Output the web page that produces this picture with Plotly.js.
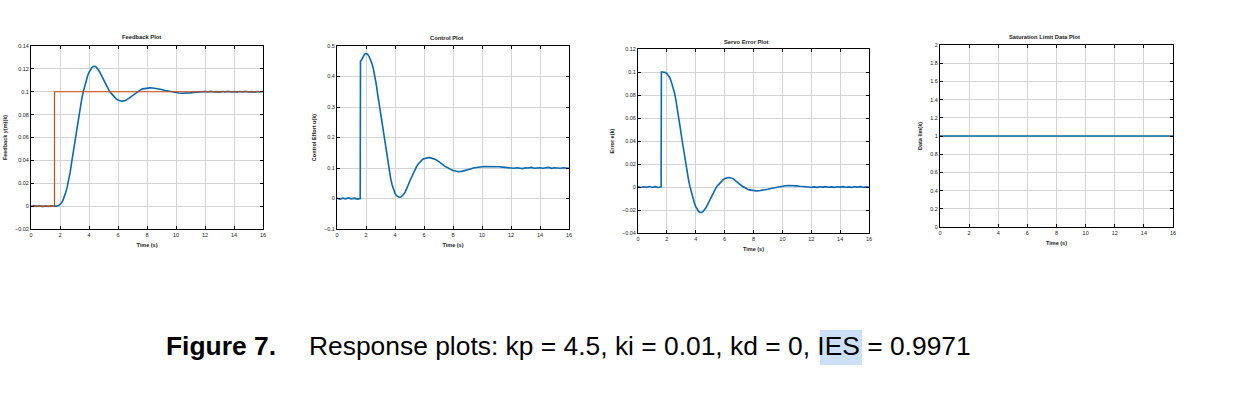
<!DOCTYPE html>
<html>
<head>
<meta charset="utf-8">
<script src="https://cdn.plot.ly/plotly-3.0.1.min.js"></script>
<style>html,body{margin:0;padding:0;background:#fff;}#chart{width:1250px;height:395px;}</style>
</head>
<body>
<div id="chart"></div>
<script>
// ---- data ----
const time = [0,0.2,0.4,0.6,0.8,1.0,1.2,1.4,1.6,1.62,
1.7,1.8,1.9,2.0,2.1,2.2,2.3,2.4,2.5,2.6,2.7,2.8,2.9,3.0,3.1,3.2,3.3,3.4,3.5,3.6,3.7,3.8,3.9,4.0,
4.1,4.2,4.3,4.4,4.5,4.6,4.7,4.8,4.9,5.0,5.1,5.2,5.3,5.4,5.5,5.6,5.7,5.8,5.9,6.0,
6.1,6.2,6.3,6.4,6.5,6.6,6.7,6.8,6.9,7.0,7.1,7.2,7.3,7.4,7.5,7.6,7.7,7.8,7.9,8.0,
8.2,8.4,8.6,8.8,9.0,9.2,9.4,9.6,9.8,10.0,10.2,10.4,10.6,10.8,11.0,11.2,11.4,11.6,11.8,12.0,
12.2,12.4,12.6,12.8,13.0,13.2,13.4,13.6,13.8,14.0,14.2,14.4,14.6,14.8,15.0,15.2,15.4,15.6,15.8,16.0];

const feedback = [-0.0003,0.0004,-0.0002,0.0003,-0.0004,0.0002,-0.0003,0.0002,-0.0001,0.0000,
0.0000,0.0002,0.0005,0.0013,0.0027,0.0050,0.0082,0.0122,0.0170,0.0225,0.0295,0.0380,0.0465,0.0550,0.0635,0.0718,0.0797,0.0870,0.0937,0.0997,0.1050,0.1097,0.1137,0.1170,
0.1195,0.1212,0.1221,0.1222,0.1215,0.1201,0.1181,0.1157,0.1130,0.1102,0.1075,0.1050,0.1027,0.1007,0.0990,0.0975,0.0960,0.0947,0.0936,0.0928,
0.0922,0.0919,0.0918,0.0919,0.0923,0.0929,0.0938,0.0948,0.0959,0.0970,0.0981,0.0991,0.1000,0.1008,0.1015,0.1020,0.1025,0.1028,0.1030,0.1032,
0.1034,0.1033,0.1030,0.1025,0.1019,0.1013,0.1007,0.1001,0.0996,0.0992,0.0989,0.0987,0.0986,0.0988,0.0990,0.0993,0.0996,0.0998,0.0999,0.1002,
0.0999,0.1003,0.0998,0.1001,0.0997,0.1002,0.0999,0.1003,0.0998,0.1001,0.0997,0.1002,0.0999,0.1003,0.0998,0.1001,0.0997,0.1002,0.0999,0.1002];

const refTime = [0,1.62,1.62,16];
const reference = [0,0,0.1,0.1];

const control = [0.001,-0.002,0.001,-0.001,0.002,-0.001,0.001,-0.002,0.000,0.450,
0.455,0.466,0.473,0.475,0.473,0.467,0.457,0.444,0.427,0.404,0.377,0.344,0.313,0.282,0.250,0.215,0.180,0.148,0.117,0.090,0.066,0.045,0.029,0.017,
0.009,0.005,0.004,0.005,0.009,0.014,0.021,0.030,0.043,0.055,0.066,0.078,0.089,0.098,0.106,0.113,0.119,0.124,0.128,0.130,
0.132,0.133,0.134,0.134,0.133,0.132,0.130,0.128,0.125,0.122,0.119,0.115,0.111,0.107,0.104,0.101,0.098,0.096,0.094,0.092,
0.089,0.088,0.089,0.091,0.094,0.097,0.100,0.102,0.103,0.104,0.105,0.105,0.106,0.105,0.104,0.104,0.103,0.102,0.101,0.101,
0.099,0.101,0.100,0.098,0.101,0.100,0.102,0.099,0.100,0.101,0.099,0.100,0.102,0.099,0.101,0.100,0.099,0.101,0.100,0.099];

const servoError = [0.0003,-0.0004,0.0002,-0.0003,0.0004,-0.0002,0.0003,-0.0004,0.0001,0.1000,
0.1000,0.0999,0.0995,0.0987,0.0973,0.0950,0.0918,0.0878,0.0830,0.0775,0.0705,0.0620,0.0535,0.0450,0.0365,0.0282,0.0203,0.0130,0.0063,0.0003,-0.0050,-0.0097,-0.0137,-0.0170,
-0.0195,-0.0212,-0.0221,-0.0222,-0.0215,-0.0201,-0.0181,-0.0157,-0.0130,-0.0102,-0.0075,-0.0050,-0.0027,-0.0007,0.0010,0.0025,0.0040,0.0053,0.0064,0.0072,
0.0078,0.0081,0.0082,0.0081,0.0077,0.0071,0.0062,0.0052,0.0041,0.0030,0.0019,0.0009,0.0000,-0.0008,-0.0015,-0.0020,-0.0025,-0.0028,-0.0030,-0.0032,
-0.0034,-0.0033,-0.0030,-0.0025,-0.0019,-0.0013,-0.0007,-0.0001,0.0004,0.0008,0.0011,0.0013,0.0014,0.0012,0.0010,0.0007,0.0004,0.0002,0.0001,-0.0002,
0.0001,-0.0003,0.0002,-0.0001,0.0003,-0.0002,0.0001,-0.0003,0.0002,-0.0001,0.0003,-0.0002,0.0001,-0.0003,0.0002,-0.0001,0.0003,-0.0002,0.0001,-0.0002];

const satTime = [0,16];
const saturation = [1,1];

const plotTitles = ["Feedback Plot","Control Plot","Servo Error Plot","Saturation Limit Data Plot"];
const yTitles = ["Feedback y(m)(k)","Control Effort u(k)","Error e(k)","Data lim(k)"];
const xTitle = "Time (s)";
const captionBold = "Figure 7.";
const captionText = "Response plots: kp = 4.5, ki = 0.01, kd = 0, IES = 0.9971";

// ---- styling ----
const W = 1250, H = 395;
const BLUE = '#0a6aad', RED = '#cc4a12';
const px = v => v / W, py = v => 1 - v / H;
const line = c => ({color: c, width: 1.6});

const traces = [
  {x: time, y: feedback, xaxis: 'x', yaxis: 'y', mode: 'lines', line: line(BLUE)},
  {x: refTime, y: reference, xaxis: 'x', yaxis: 'y', mode: 'lines', line: {color: RED, width: 1.2}},
  {x: time, y: control, xaxis: 'x2', yaxis: 'y2', mode: 'lines', line: line(BLUE)},
  {x: time, y: servoError, xaxis: 'x3', yaxis: 'y3', mode: 'lines', line: line(BLUE)},
  {x: satTime, y: saturation, xaxis: 'x4', yaxis: 'y4', mode: 'lines', line: {color: '#0a6a9a', width: 1.3}}
];

const tickFont = {family: 'Liberation Sans, Arial, sans-serif', size: 5.5, color: '#222'};
const titleFont = {family: 'Liberation Sans, Arial, sans-serif', size: 5.5, color: '#222', weight: 'bold'};
const capFont = {family: 'Liberation Sans, Arial, sans-serif', size: 26.4, color: '#000'};

function xa(d) {
  return {domain: [px(d[0]), px(d[1])], range: [0, 16], dtick: 2, tick0: 0,
    ticks: 'inside', ticklen: 3, tickcolor: '#000', showline: true, mirror: 'ticks',
    linecolor: '#000', linewidth: 1, showgrid: true, gridcolor: '#d4d4d4', gridwidth: 1,
    zeroline: false, tickfont: tickFont,
    title: {text: xTitle, font: titleFont, standoff: 6}};
}
function ya(d, r, dt, t) {
  return {domain: [py(d[1]), py(d[0])], range: r, dtick: dt, tick0: 0,
    ticks: 'inside', ticklen: 3, tickcolor: '#000', showline: true, mirror: 'ticks',
    linecolor: '#000', linewidth: 1, showgrid: true, gridcolor: '#d4d4d4', gridwidth: 1,
    zeroline: false, tickfont: tickFont, exponentformat: 'none',
    title: {text: t, font: titleFont, standoff: 7}};
}

const layout = {
  width: W, height: H, margin: {l: 0, r: 0, t: 0, b: 0},
  paper_bgcolor: '#fff', plot_bgcolor: '#fff', showlegend: false,
  xaxis:  Object.assign(xa([31, 263]), {anchor: 'y'}),
  yaxis:  Object.assign(ya([46, 229], [-0.02, 0.14], 0.02, yTitles[0]), {anchor: 'x'}),
  xaxis2: Object.assign(xa([337, 569]), {anchor: 'y2'}),
  yaxis2: Object.assign(ya([46, 229], [-0.1, 0.5], 0.1, yTitles[1]), {anchor: 'x2'}),
  xaxis3: Object.assign(xa([638, 869]), {anchor: 'y3'}),
  yaxis3: Object.assign(ya([49, 233], [-0.04, 0.12], 0.02, yTitles[2]), {anchor: 'x3'}),
  xaxis4: Object.assign(xa([940, 1173]), {anchor: 'y4'}),
  yaxis4: Object.assign(ya([45, 227], [0, 2], 0.2, yTitles[3]), {anchor: 'x4'}),
  shapes: [
    {type: 'rect', xref: 'paper', yref: 'paper', x0: px(820), x1: px(862), y0: py(365), y1: py(330),
     fillcolor: '#cce0f6', line: {width: 0}, layer: 'below'}
  ],
  annotations: [
    {text: '<b>' + plotTitles[0] + '</b>', x: px(141), y: py(37)},
    {text: '<b>' + plotTitles[1] + '</b>', x: px(447), y: py(38)},
    {text: '<b>' + plotTitles[2] + '</b>', x: px(746), y: py(42)},
    {text: '<b>' + plotTitles[3] + '</b>', x: px(1044), y: py(37)}
  ].map(a => Object.assign(a, {xref: 'paper', yref: 'paper', showarrow: false, xanchor: 'center', yanchor: 'middle',
     font: {family: 'Liberation Sans, Arial, sans-serif', size: 5.8, color: '#222'}})).concat([
    {text: '<b>' + captionBold + '</b>', x: px(164), y: py(346), xref: 'paper', yref: 'paper', showarrow: false,
     xanchor: 'left', yanchor: 'middle', font: capFont},
    {text: captionText, x: px(307), y: py(346), xref: 'paper', yref: 'paper', showarrow: false,
     xanchor: 'left', yanchor: 'middle', font: capFont}
  ])
};

Plotly.newPlot('chart', traces, layout, {staticPlot: true, displayModeBar: false});
</script>
</body>
</html>
